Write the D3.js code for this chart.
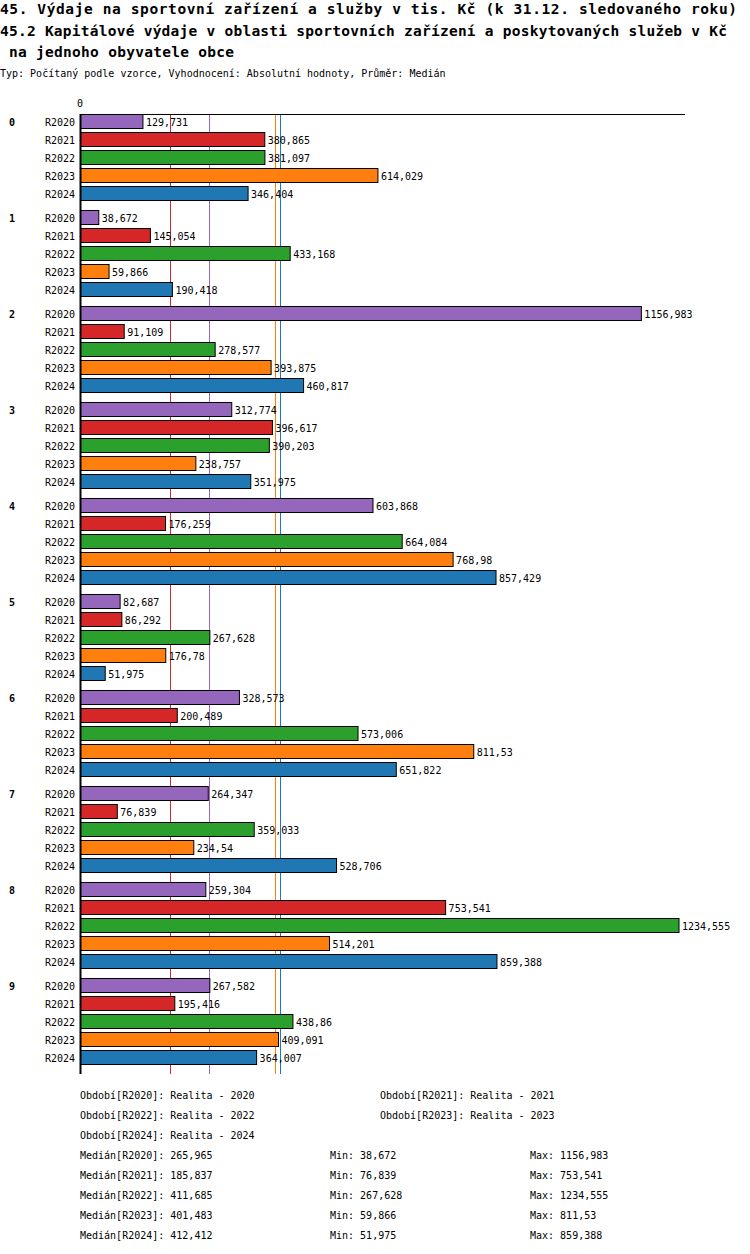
<!DOCTYPE html>
<html>
<head>
<meta charset="utf-8">
<script src="https://cdn.jsdelivr.net/npm/d3@7"></script>
<style>
  body { margin: 0; background: #fff; }
  text { font-family: "DejaVu Sans Mono", monospace; fill: #000; }
  .title { font-size: 14.5px; font-weight: bold; }
  .small { font-size: 10px; }
  .group { font-size: 10px; font-weight: bold; }
</style>
</head>
<body>
<div id="chart"></div>
<script>
const groups = ["0", "1", "2", "3", "4", "5", "6", "7", "8", "9"];
const series = ["R2020", "R2021", "R2022", "R2023", "R2024"];
const colors = ["#9467bd", "#d62728", "#2ca02c", "#ff7f0e", "#1f77b4"];
const periodNames = ["Realita - 2020", "Realita - 2021", "Realita - 2022", "Realita - 2023", "Realita - 2024"];

// values per group, in series order
const values = [
  [129.731, 380.865, 381.097, 614.029, 346.404],
  [38.672, 145.054, 433.168, 59.866, 190.418],
  [1156.983, 91.109, 278.577, 393.875, 460.817],
  [312.774, 396.617, 390.203, 238.757, 351.975],
  [603.868, 176.259, 664.084, 768.98, 857.429],
  [82.687, 86.292, 267.628, 176.78, 51.975],
  [328.573, 200.489, 573.006, 811.53, 651.822],
  [264.347, 76.839, 359.033, 234.54, 528.706],
  [259.304, 753.541, 1234.555, 514.201, 859.388],
  [267.582, 195.416, 438.86, 409.091, 364.007]
];
const medians = [265.965, 185.837, 411.685, 401.483, 412.412];

const titles = [
  "45. Výdaje na sportovní zařízení a služby v tis. Kč (k 31.12. sledovaného roku)",
  "45.2 Kapitálové výdaje v oblasti sportovních zařízení a poskytovaných služeb v Kč",
  " na jednoho obyvatele obce"
];
const titleWidths = [737, 727, 234];
const subtitle = "Typ: Počítaný podle vzorce, Vyhodnocení: Absolutní hodnoty, Průměr: Medián";

const fmt = v => String(v).replace(".", ",");

const width = 750, height = 1254;
const rowH = 18, groupGap = 6, barH = 15;
const axisTop = 114, firstRow = 122, axisBottom = 1074;

const svg = d3.select("#chart").append("svg")
  .attr("width", width)
  .attr("height", height);

svg.selectAll("text.title")
  .data(titles)
  .enter().append("text")
  .attr("class", "title")
  .attr("x", 0)
  .attr("y", (d, i) => 14 + i * 21.5)
  .attr("xml:space", "preserve")
  .attr("textLength", (d, i) => titleWidths[i])
  .attr("lengthAdjust", "spacing")
  .style("white-space", "pre")
  .text(d => d);

svg.append("text")
  .attr("class", "small")
  .attr("x", 0)
  .attr("y", 77)
  .text(subtitle);

const x = d3.scaleLinear()
  .domain([0, d3.max(values.flat()) * 1.01])
  .range([80, 685]);

const rows = [];
values.forEach((g, gi) => {
  g.forEach((v, si) => {
    rows.push({ group: gi, s: si, value: v,
      y: firstRow + gi * (5 * rowH + groupGap) + si * rowH });
  });
});

// median lines (behind bars)
svg.selectAll("line.median")
  .data(medians)
  .enter().append("line")
  .attr("x1", d => Math.round(x(d)) + 0.5)
  .attr("x2", d => Math.round(x(d)) + 0.5)
  .attr("y1", axisTop)
  .attr("y2", axisBottom)
  .attr("stroke", (d, i) => colors[i])
  .attr("stroke-width", 1);

// top axis
svg.append("line")
  .attr("x1", 80).attr("x2", 685)
  .attr("y1", axisTop + 0.5).attr("y2", axisTop + 0.5)
  .attr("stroke", "#000");
svg.append("line")
  .attr("x1", 80.5).attr("x2", 80.5)
  .attr("y1", axisTop).attr("y2", axisBottom)
  .attr("stroke", "#000")
  .attr("stroke-width", 2);
svg.append("text")
  .attr("class", "small")
  .attr("x", x(0))
  .attr("y", 107)
  .attr("text-anchor", "middle")
  .text("0");

svg.selectAll("rect.bar")
  .data(rows)
  .enter().append("rect")
  .attr("x", x(0) + 1)
  .attr("y", d => d.y - barH / 2)
  .attr("width", d => x(d.value) - x(0) - 1)
  .attr("height", barH - 1)
  .attr("fill", d => colors[d.s])
  .attr("stroke", "#000")
  .attr("stroke-width", 1);

svg.selectAll("text.val")
  .data(rows)
  .enter().append("text")
  .attr("class", "small")
  .attr("x", d => x(d.value) + 3)
  .attr("y", d => d.y)
  .attr("dy", "0.35em")
  .text(d => fmt(d.value));

svg.selectAll("text.rowlab")
  .data(rows)
  .enter().append("text")
  .attr("class", "small")
  .attr("x", 75)
  .attr("y", d => d.y)
  .attr("dy", "0.35em")
  .attr("text-anchor", "end")
  .text(d => series[d.s]);

svg.selectAll("text.group")
  .data(groups)
  .enter().append("text")
  .attr("class", "group")
  .attr("x", 9)
  .attr("y", (d, i) => firstRow + i * (5 * rowH + groupGap))
  .attr("dy", "0.35em")
  .text(d => d);

// legend
const legY = 1099, legStep = 20;
series.forEach((s, i) => {
  svg.append("text")
    .attr("class", "small")
    .attr("x", i % 2 === 0 ? 80 : 380)
    .attr("y", legY + Math.floor(i / 2) * legStep)
    .text(`Období[${s}]: ${periodNames[i]}`);
});
series.forEach((s, i) => {
  const y = legY + (3 + i) * legStep;
  const vals = values.map(g => g[i]);
  svg.append("text").attr("class", "small")
    .attr("x", 80).attr("y", y)
    .text(`Medián[${s}]: ${fmt(medians[i])}`);
  svg.append("text").attr("class", "small")
    .attr("x", 330).attr("y", y)
    .text(`Min: ${fmt(d3.min(vals))}`);
  svg.append("text").attr("class", "small")
    .attr("x", 530).attr("y", y)
    .text(`Max: ${fmt(d3.max(vals))}`);
});
</script>
</body>
</html>
